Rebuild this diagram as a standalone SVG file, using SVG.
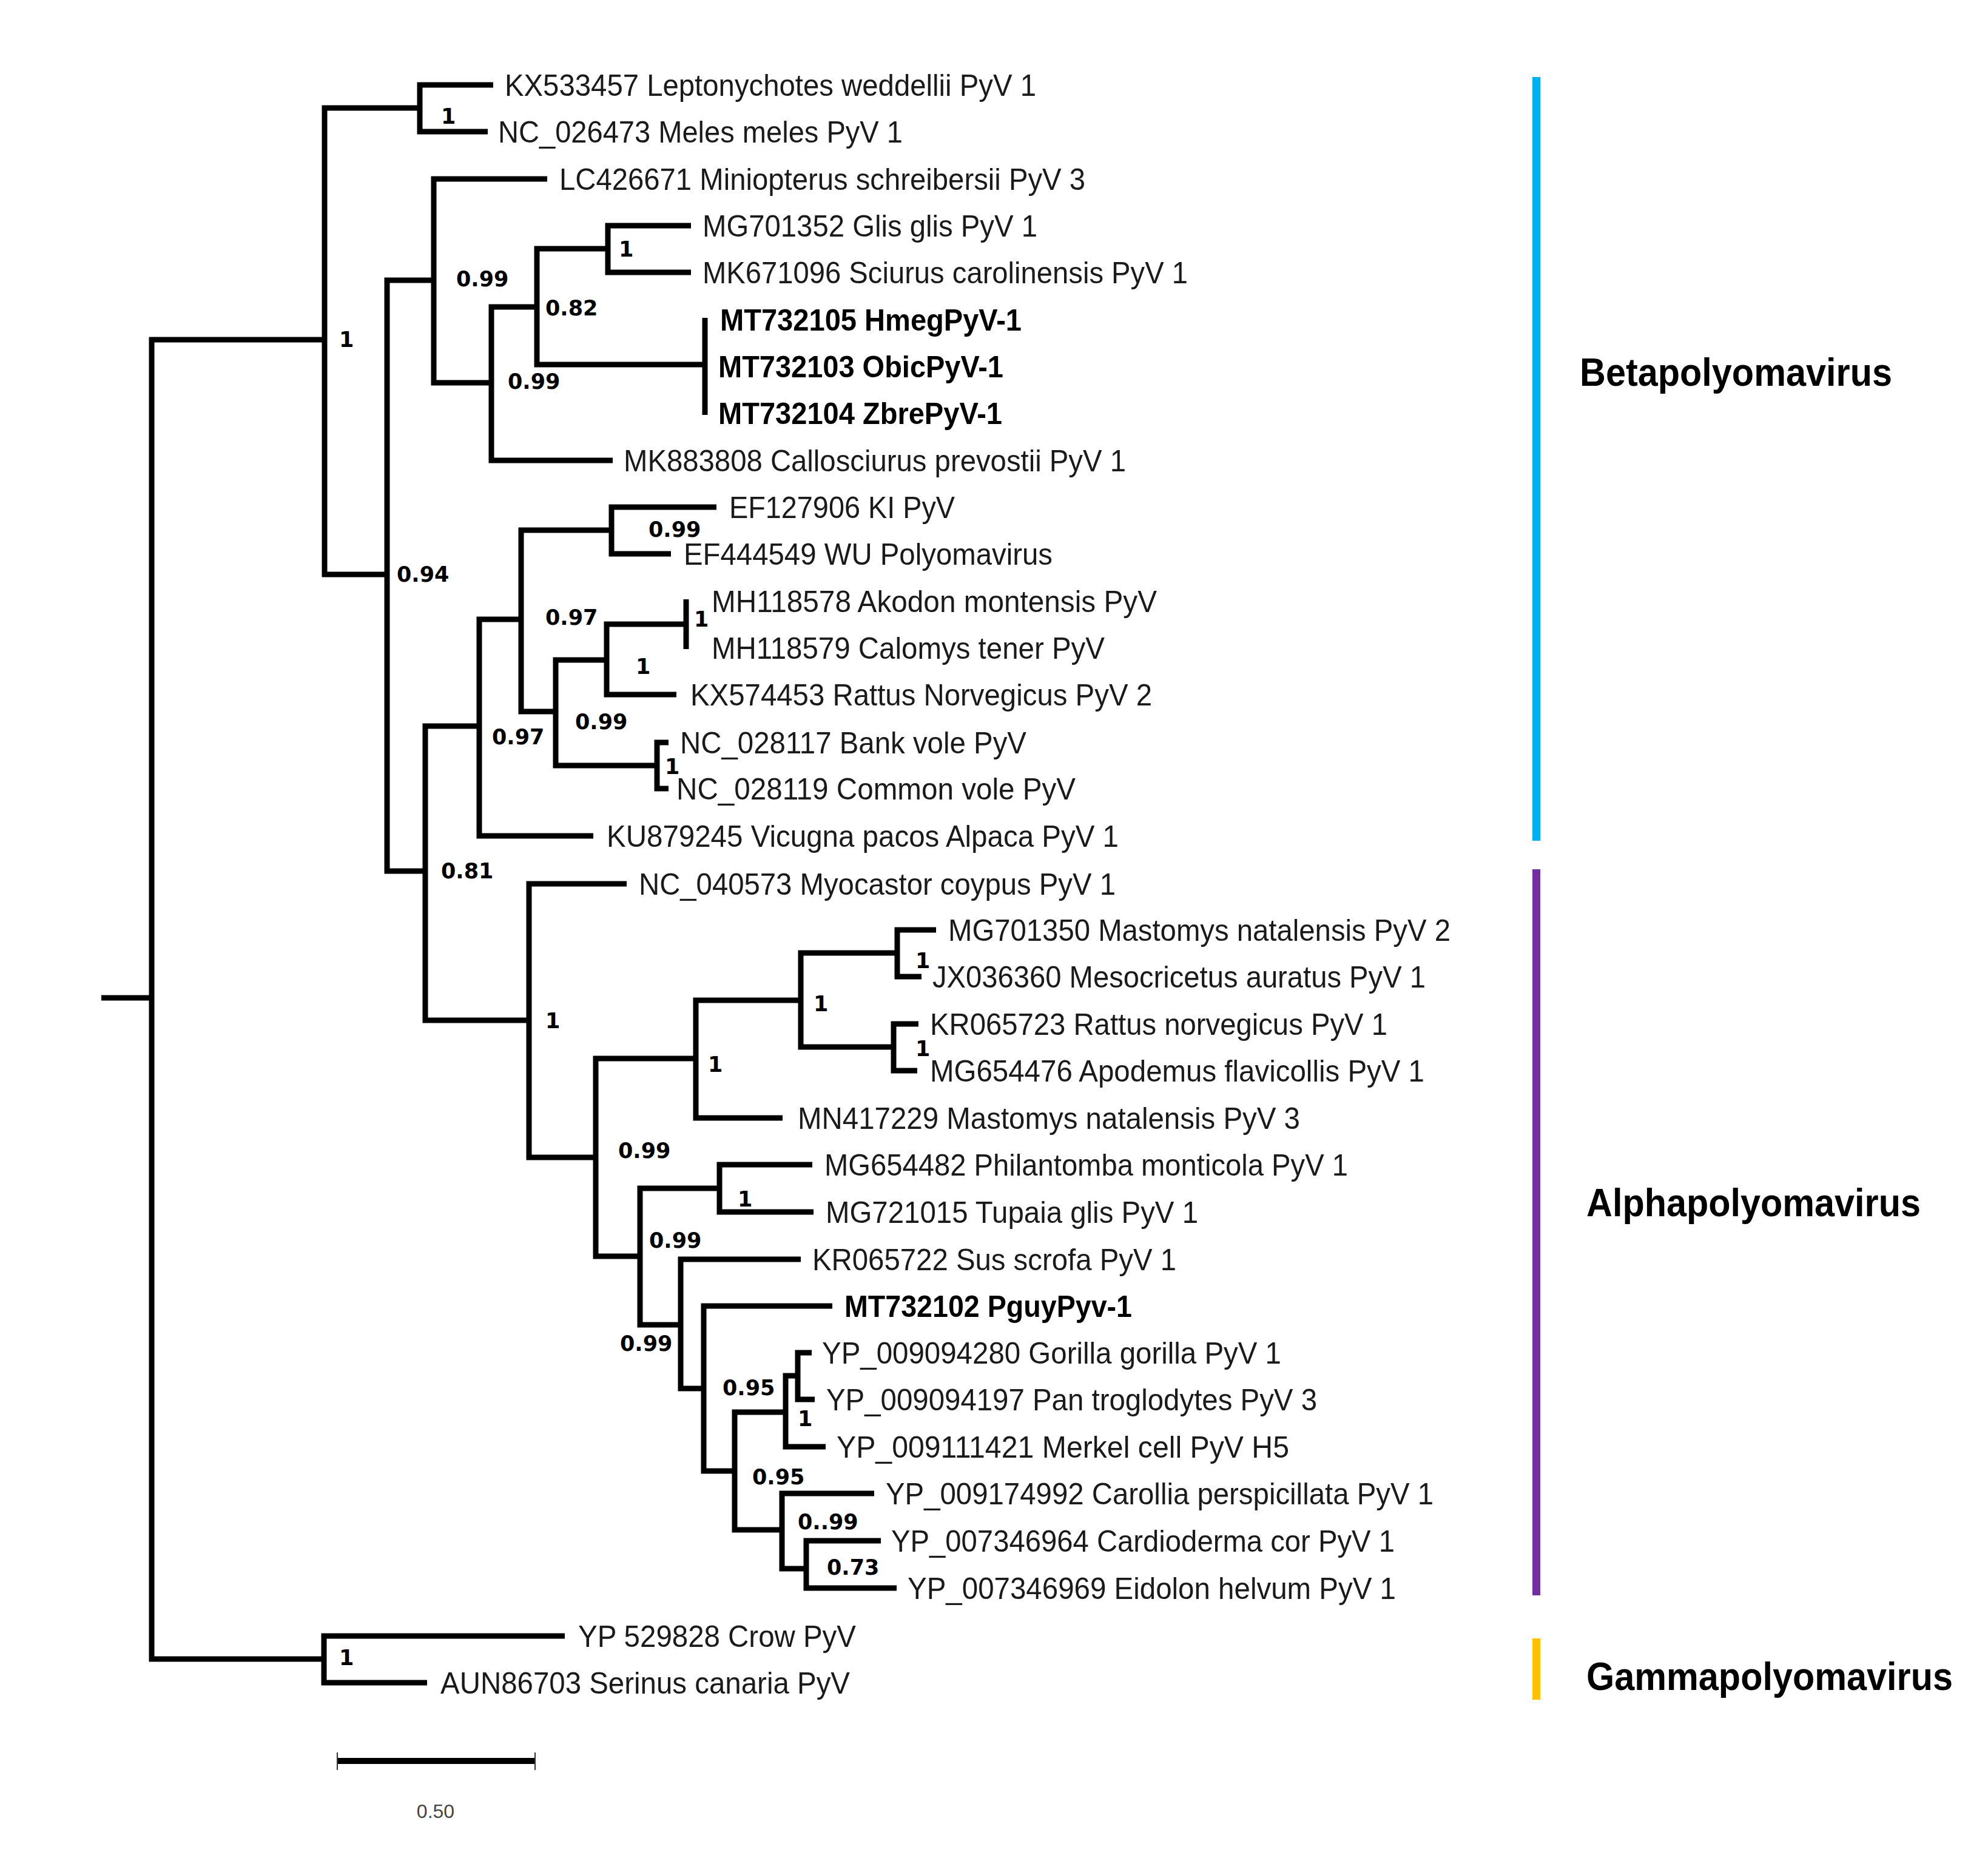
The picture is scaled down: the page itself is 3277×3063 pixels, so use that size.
<svg xmlns="http://www.w3.org/2000/svg" width="3277" height="3063" viewBox="0 0 3277 3063">
<style>
.br{fill:none;stroke:#000;stroke-width:9;stroke-linejoin:miter;stroke-linecap:butt}
.lf{font-family:"Liberation Sans",Arial,sans-serif;font-size:50px;fill:#1a1a1a}
.lfb{font-family:"Liberation Sans",Arial,sans-serif;font-size:50px;font-weight:bold;fill:#000}
.sp{font-family:"DejaVu Sans",Verdana,sans-serif;font-size:35px;font-weight:bold;fill:#000}
.cl{font-family:"Liberation Sans",Arial,sans-serif;font-size:64px;font-weight:bold;fill:#000}
</style>
<rect width="3277" height="3063" fill="#fff"/>
<g id="connectors">
<path class="br" d="M167 1645 H250"/>
<path class="br" d="M535 560 H250 V2735 H534"/>
<path class="br" d="M692 178 H535 V947 H638"/>
<path class="br" d="M813 140 H692 V217 H804"/>
<path class="br" d="M715 462 H638 V1436 H701"/>
<path class="br" d="M902 295 H715 V631 H810"/>
<path class="br" d="M885 506 H810 V759 H1010"/>
<path class="br" d="M1002 410 H885 V601 H1162"/>
<path class="br" d="M1139 372 H1002 V449 H1139"/>
<path class="br" d="M1162 524 V684"/>
<path class="br" d="M790 1197 H701 V1682 H872"/>
<path class="br" d="M859 1021 H790 V1378 H978"/>
<path class="br" d="M1008 874 H859 V1173 H916"/>
<path class="br" d="M1181 836 H1008 V913 H1106"/>
<path class="br" d="M1000 1088 H916 V1262 H1083"/>
<path class="br" d="M1131 1029 H1000 V1145 H1115"/>
<path class="br" d="M1131 988 V1070"/>
<path class="br" d="M1102 1224 H1083 V1300 H1102"/>
<path class="br" d="M1033 1457 H872 V1908 H982"/>
<path class="br" d="M1147 1745 H982 V2071 H1055"/>
<path class="br" d="M1320 1649 H1147 V1843 H1290"/>
<path class="br" d="M1479 1571 H1320 V1726 H1473"/>
<path class="br" d="M1543 1533 H1479 V1610 H1519"/>
<path class="br" d="M1514 1688 H1473 V1765 H1512"/>
<path class="br" d="M1186 1959 H1055 V2184 H1122"/>
<path class="br" d="M1339 1920 H1186 V1998 H1341"/>
<path class="br" d="M1320 2076 H1122 V2289 H1160"/>
<path class="br" d="M1372 2153 H1160 V2425 H1211"/>
<path class="br" d="M1295 2328 H1211 V2522 H1289"/>
<path class="br" d="M1315 2268 H1295 V2385 H1361"/>
<path class="br" d="M1338 2230 H1315 V2307 H1343"/>
<path class="br" d="M1441 2462 H1289 V2586 H1329"/>
<path class="br" d="M1452 2540 H1329 V2618 H1478"/>
<path class="br" d="M931 2697 H534 V2774 H704"/>
</g>
<g id="support-values">
<g id="n-A"><text class="sp" x="559" y="572">1</text></g>
<g id="n-KN"><text class="sp" x="727" y="204">1</text></g>
<g id="n-099a"><text class="sp" x="752" y="472">0.99</text></g>
<g id="n-082"><text class="sp" x="899" y="520">0.82</text></g>
<g id="n-099b"><text class="sp" x="837" y="641">0.99</text></g>
<g id="n-G1"><text class="sp" x="1020" y="423">1</text></g>
<g id="n-094"><text class="sp" x="654" y="959">0.94</text></g>
<g id="n-097a"><text class="sp" x="811" y="1227">0.97</text></g>
<g id="n-097b"><text class="sp" x="899" y="1030">0.97</text></g>
<g id="n-099c"><text class="sp" x="948" y="1202">0.99</text></g>
<g id="n-081"><text class="sp" x="727" y="1448">0.81</text></g>
<g id="n-KW"><text class="sp" x="1069" y="885">0.99</text></g>
<g id="n-Ak1"><text class="sp" x="1048" y="1111">1</text></g>
<g id="n-MH"><text class="sp" x="1144" y="1033">1</text></g>
<g id="n-V"><text class="sp" x="1096" y="1276">1</text></g>
<g id="n-Alpha"><text class="sp" x="899" y="1695">1</text></g>
<g id="n-b"><text class="sp" x="1167" y="1767">1</text></g>
<g id="n-c"><text class="sp" x="1341" y="1667">1</text></g>
<g id="n-d"><text class="sp" x="1509" y="1596">1</text></g>
<g id="n-e"><text class="sp" x="1509" y="1741">1</text></g>
<g id="n-099d"><text class="sp" x="1019" y="1909">0.99</text></g>
<g id="n-P"><text class="sp" x="1216" y="1989">1</text></g>
<g id="n-099e"><text class="sp" x="1070" y="2057">0.99</text></g>
<g id="n-099f"><text class="sp" x="1022" y="2227">0.99</text></g>
<g id="n-095a"><text class="sp" x="1191" y="2300">0.95</text></g>
<g id="n-Gor"><text class="sp" x="1315" y="2351">1</text></g>
<g id="n-095b"><text class="sp" x="1240" y="2447">0.95</text></g>
<g id="n-0099"><text class="sp" x="1315" y="2521">0..99</text></g>
<g id="n-073"><text class="sp" x="1363" y="2596">0.73</text></g>
<g id="n-Gamma"><text class="sp" x="559" y="2745">1</text></g>
</g>
<g id="leaves">
<g id="leaf-1"><text class="lf" x="832" y="158" textLength="876" lengthAdjust="spacingAndGlyphs">KX533457 Leptonychotes weddellii PyV 1</text></g>
<g id="leaf-2"><text class="lf" x="821" y="235" textLength="667" lengthAdjust="spacingAndGlyphs">NC_026473 Meles meles PyV 1</text></g>
<g id="leaf-3"><text class="lf" x="922" y="313" textLength="867" lengthAdjust="spacingAndGlyphs">LC426671 Miniopterus schreibersii PyV 3</text></g>
<g id="leaf-4"><text class="lf" x="1158" y="390" textLength="552" lengthAdjust="spacingAndGlyphs">MG701352 Glis glis PyV 1</text></g>
<g id="leaf-5"><text class="lf" x="1158" y="467" textLength="800" lengthAdjust="spacingAndGlyphs">MK671096 Sciurus carolinensis PyV 1</text></g>
<g id="leaf-6"><text class="lfb" x="1187" y="545" textLength="497" lengthAdjust="spacingAndGlyphs">MT732105 HmegPyV-1</text></g>
<g id="leaf-7"><text class="lfb" x="1184" y="622" textLength="470" lengthAdjust="spacingAndGlyphs">MT732103 ObicPyV-1</text></g>
<g id="leaf-8"><text class="lfb" x="1184" y="699" textLength="468" lengthAdjust="spacingAndGlyphs">MT732104 ZbrePyV-1</text></g>
<g id="leaf-9"><text class="lf" x="1028" y="777" textLength="828" lengthAdjust="spacingAndGlyphs">MK883808 Callosciurus prevostii PyV 1</text></g>
<g id="leaf-10"><text class="lf" x="1202" y="854" textLength="372" lengthAdjust="spacingAndGlyphs">EF127906 KI PyV</text></g>
<g id="leaf-11"><text class="lf" x="1127" y="931" textLength="608" lengthAdjust="spacingAndGlyphs">EF444549 WU Polyomavirus</text></g>
<g id="leaf-12"><text class="lf" x="1173" y="1009" textLength="734" lengthAdjust="spacingAndGlyphs">MH118578 Akodon montensis PyV</text></g>
<g id="leaf-13"><text class="lf" x="1173" y="1086" textLength="648" lengthAdjust="spacingAndGlyphs">MH118579 Calomys tener PyV</text></g>
<g id="leaf-14"><text class="lf" x="1138" y="1163" textLength="761" lengthAdjust="spacingAndGlyphs">KX574453 Rattus Norvegicus PyV 2</text></g>
<g id="leaf-15"><text class="lf" x="1121" y="1242" textLength="571" lengthAdjust="spacingAndGlyphs">NC_028117 Bank vole PyV</text></g>
<g id="leaf-16"><text class="lf" x="1115" y="1318" textLength="658" lengthAdjust="spacingAndGlyphs">NC_028119 Common vole PyV</text></g>
<g id="leaf-17"><text class="lf" x="1000" y="1396" textLength="844" lengthAdjust="spacingAndGlyphs">KU879245 Vicugna pacos Alpaca PyV 1</text></g>
<g id="leaf-18"><text class="lf" x="1053" y="1475" textLength="786" lengthAdjust="spacingAndGlyphs">NC_040573 Myocastor coypus PyV 1</text></g>
<g id="leaf-19"><text class="lf" x="1563" y="1551" textLength="828" lengthAdjust="spacingAndGlyphs">MG701350 Mastomys natalensis PyV 2</text></g>
<g id="leaf-20"><text class="lf" x="1537" y="1628" textLength="813" lengthAdjust="spacingAndGlyphs">JX036360 Mesocricetus auratus PyV 1</text></g>
<g id="leaf-21"><text class="lf" x="1533" y="1706" textLength="754" lengthAdjust="spacingAndGlyphs">KR065723 Rattus norvegicus PyV 1</text></g>
<g id="leaf-22"><text class="lf" x="1533" y="1783" textLength="815" lengthAdjust="spacingAndGlyphs">MG654476 Apodemus flavicollis PyV 1</text></g>
<g id="leaf-23"><text class="lf" x="1315" y="1861" textLength="828" lengthAdjust="spacingAndGlyphs">MN417229 Mastomys natalensis PyV 3</text></g>
<g id="leaf-24"><text class="lf" x="1359" y="1938" textLength="863" lengthAdjust="spacingAndGlyphs">MG654482 Philantomba monticola PyV 1</text></g>
<g id="leaf-25"><text class="lf" x="1361" y="2016" textLength="614" lengthAdjust="spacingAndGlyphs">MG721015 Tupaia glis PyV 1</text></g>
<g id="leaf-26"><text class="lf" x="1339" y="2094" textLength="600" lengthAdjust="spacingAndGlyphs">KR065722 Sus scrofa PyV 1</text></g>
<g id="leaf-27"><text class="lfb" x="1392" y="2171" textLength="474" lengthAdjust="spacingAndGlyphs">MT732102 PguyPyv-1</text></g>
<g id="leaf-28"><text class="lf" x="1355" y="2248" textLength="757" lengthAdjust="spacingAndGlyphs">YP_009094280 Gorilla gorilla PyV 1</text></g>
<g id="leaf-29"><text class="lf" x="1362" y="2325" textLength="809" lengthAdjust="spacingAndGlyphs">YP_009094197 Pan troglodytes PyV 3</text></g>
<g id="leaf-30"><text class="lf" x="1379" y="2403" textLength="746" lengthAdjust="spacingAndGlyphs">YP_009111421 Merkel cell PyV H5</text></g>
<g id="leaf-31"><text class="lf" x="1460" y="2480" textLength="903" lengthAdjust="spacingAndGlyphs">YP_009174992 Carollia perspicillata PyV 1</text></g>
<g id="leaf-32"><text class="lf" x="1469" y="2558" textLength="830" lengthAdjust="spacingAndGlyphs">YP_007346964 Cardioderma cor PyV 1</text></g>
<g id="leaf-33"><text class="lf" x="1496" y="2636" textLength="805" lengthAdjust="spacingAndGlyphs">YP_007346969 Eidolon helvum PyV 1</text></g>
<g id="leaf-34"><text class="lf" x="953" y="2715" textLength="458" lengthAdjust="spacingAndGlyphs">YP 529828 Crow PyV</text></g>
<g id="leaf-35"><text class="lf" x="726" y="2792" textLength="675" lengthAdjust="spacingAndGlyphs">AUN86703 Serinus canaria PyV</text></g>
</g>
<g id="clade-beta">
<rect x="2526" y="127" width="13" height="1259" fill="#00B0F0"/>
<text class="cl" x="2604" y="636" textLength="515" lengthAdjust="spacingAndGlyphs">Betapolyomavirus</text>
</g>
<g id="clade-alpha">
<rect x="2526" y="1433" width="13" height="1197" fill="#7030A0"/>
<text class="cl" x="2615" y="2005" textLength="551" lengthAdjust="spacingAndGlyphs">Alphapolyomavirus</text>
</g>
<g id="clade-gamma">
<rect x="2526" y="2701" width="13" height="101" fill="#FFC000"/>
<text class="cl" x="2615" y="2786" textLength="604" lengthAdjust="spacingAndGlyphs">Gammapolyomavirus</text>
</g>
<g id="scale-bar">
<line x1="556" y1="2903" x2="882" y2="2903" stroke="#000" stroke-width="10"/>
<line x1="556" y1="2889" x2="556" y2="2918" stroke="#333" stroke-width="2"/>
<line x1="882" y1="2889" x2="882" y2="2918" stroke="#333" stroke-width="2"/>
<text x="718" y="2997" text-anchor="middle" font-family="Liberation Sans, Arial, sans-serif" font-size="32" fill="#444">0.50</text>
</g>
</svg>
